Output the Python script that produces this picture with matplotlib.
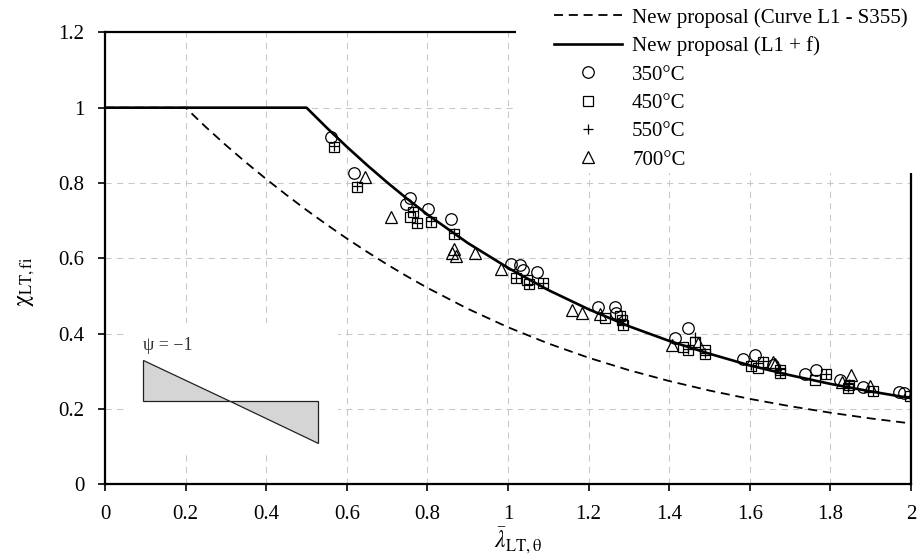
import matplotlib
matplotlib.use("Agg")
import matplotlib.pyplot as plt
from matplotlib.patches import Rectangle, Polygon

plt.rcParams["font.family"] = ["Liberation Serif", "DejaVu Serif"]
plt.rcParams["mathtext.fontset"] = "stix"

# Design curve L1 (S355)
lam_l1 = [0.0, 0.2, 0.25, 0.3, 0.35, 0.4, 0.45, 0.5, 0.55, 0.6, 0.65, 0.7, 0.75,
          0.8, 0.9, 1.0, 1.1, 1.2, 1.3, 1.4, 1.5, 1.6, 1.7, 1.8, 1.9, 2.0]
chi_l1 = [1.0, 1.0, 0.9487, 0.9004, 0.8544, 0.8106, 0.7686, 0.7283, 0.6898,
          0.6528, 0.6176, 0.5840, 0.5521, 0.5219, 0.4664, 0.4173, 0.3742,
          0.3364, 0.3034, 0.2746, 0.2493, 0.2272, 0.2077, 0.1905, 0.1753, 0.1620]

# Design curve L1 + f
lam_l1f = [0.0, 0.5, 0.55, 0.6, 0.65, 0.7, 0.75, 0.8, 0.9, 1.0, 1.1, 1.2, 1.3,
           1.4, 1.5, 1.6, 1.7, 1.8, 1.9, 2.0]
chi_l1f = [1.0, 1.0, 0.9470, 0.8963, 0.8479, 0.8018, 0.7580, 0.7165, 0.6410,
           0.5750, 0.5160, 0.4650, 0.4200, 0.3810, 0.3470, 0.3160, 0.2900,
           0.2670, 0.2470, 0.2290]

# Numerical results
lam_350 = [0.562, 0.618, 0.757, 0.747, 0.802, 0.858, 1.007, 1.031, 1.038, 1.073,
           1.224, 1.266, 1.268, 1.414, 1.447, 1.584, 1.613, 1.657, 1.737, 1.764,
           1.824, 1.882, 1.970, 1.982]
chi_350 = [0.923, 0.827, 0.760, 0.744, 0.730, 0.705, 0.585, 0.582, 0.569, 0.563,
           0.470, 0.470, 0.455, 0.388, 0.415, 0.333, 0.344, 0.317, 0.294, 0.303,
           0.277, 0.258, 0.246, 0.243]

lam_450 = [0.569, 0.626, 0.765, 0.757, 0.773, 0.810, 0.866, 1.020, 1.046, 1.053,
           1.086, 1.241, 1.278, 1.282, 1.286, 1.435, 1.447, 1.464, 1.489, 1.490,
           1.604, 1.634, 1.621, 1.675, 1.676, 1.762, 1.789, 1.846, 1.843, 1.905,
           1.998]
chi_450 = [0.895, 0.790, 0.724, 0.709, 0.693, 0.696, 0.665, 0.547, 0.543, 0.531,
           0.534, 0.441, 0.447, 0.437, 0.423, 0.366, 0.357, 0.379, 0.357, 0.346,
           0.315, 0.325, 0.308, 0.304, 0.295, 0.277, 0.292, 0.264, 0.257, 0.247,
           0.234]

lam_550 = [0.569, 0.626, 0.765, 0.773, 0.810, 0.866, 1.020, 1.053, 1.086, 1.282,
           1.286, 1.447, 1.464, 1.490, 1.604, 1.634, 1.675, 1.676, 1.789, 1.846,
           1.843, 1.905, 1.998]
chi_550 = [0.897, 0.792, 0.726, 0.695, 0.698, 0.667, 0.549, 0.533, 0.536, 0.439,
           0.425, 0.359, 0.392, 0.348, 0.317, 0.327, 0.306, 0.297, 0.294, 0.266,
           0.259, 0.249, 0.236]

lam_700 = [0.645, 0.709, 0.860, 0.866, 0.871, 0.918, 0.983, 1.158, 1.183, 1.228,
           1.406, 1.472, 1.658, 1.663, 1.830, 1.850, 1.898]
chi_700 = [0.815, 0.709, 0.614, 0.624, 0.607, 0.614, 0.572, 0.463, 0.456, 0.452,
           0.370, 0.375, 0.326, 0.320, 0.272, 0.291, 0.262]

x_ticks = [0, 0.2, 0.4, 0.6, 0.8, 1, 1.2, 1.4, 1.6, 1.8, 2]
x_tick_labels = ["0", "0.2", "0.4", "0.6", "0.8", "1", "1.2", "1.4", "1.6", "1.8", "2"]
y_ticks = [0, 0.2, 0.4, 0.6, 0.8, 1, 1.2]
y_tick_labels = ["0", "0.2", "0.4", "0.6", "0.8", "1", "1.2"]

labels = ["New proposal (Curve L1 - S355)", "New proposal (L1 + f)",
          "350°C", "450°C", "550°C", "700°C"]

fig = plt.figure(figsize=(9.19, 5.55), dpi=100)
ax = fig.add_axes([0.11425, 0.12703, 0.87704, 0.81477])

ax.set_xlim(0, 2)
ax.set_ylim(0, 1.2)
ax.set_xticks(x_ticks)
ax.set_xticklabels(x_tick_labels)
ax.set_yticks(y_ticks)
ax.set_yticklabels(y_tick_labels)
ax.tick_params(direction="out", length=5, width=1.2, labelsize=15, pad=10,
               colors="black")
for sp in ax.spines.values():
    sp.set_linewidth(1.6)
    sp.set_color("black")
ax.grid(True, color="#c8c8c8", linewidth=0.75, linestyle=(0, (6, 5)))

h_l1, = ax.plot(lam_l1, chi_l1, color="black", linewidth=1.3,
                linestyle=(0, (5.0, 3.2)), zorder=3)
h_l1f, = ax.plot(lam_l1f, chi_l1f, color="black", linewidth=1.9, zorder=3.2)

mk = dict(linestyle="none", markerfacecolor="none", markeredgecolor="black",
          markeredgewidth=0.9, zorder=4)
h350, = ax.plot(lam_350, chi_350, marker="o", markersize=8.3, **mk)
h450, = ax.plot(lam_450, chi_450, marker="s", markersize=7.4, **mk)
h550, = ax.plot(lam_550, chi_550, marker="+", markersize=7.5, **mk)
h700, = ax.plot(lam_700, chi_700, marker="^", markersize=8.3, **mk)

ax.set_xlabel(r"$\bar{\lambda}_{\mathrm{LT},\mathrm{\theta}}$", fontsize=17)
ax.xaxis.set_label_coords(0.512, -0.092)
ax.set_ylabel(r"$\mathrm{\chi}_{\mathrm{LT,fi}}$", fontsize=17)
ax.yaxis.set_label_coords(-0.084, 0.448)

# white backing behind the legend, cutting the upper-right frame
ax.add_patch(Rectangle((0.51, 0.689), 0.6, 0.5, transform=ax.transAxes,
                       facecolor="white", edgecolor="none", clip_on=False,
                       zorder=2.6))

ax.legend([h_l1, h_l1f, h350, h450, h550, h700], labels,
          loc="upper left", bbox_to_anchor=(554 / 919, 1 - 8 / 555),
          bbox_transform=fig.transFigure, frameon=False, borderpad=0,
          borderaxespad=0, handlelength=3.27, handletextpad=0.48,
          labelspacing=0.42, fontsize=15, numpoints=1)

# bending moment diagram sketch
ins = ax.inset_axes([0.0248, 0.0697, 0.2643, 0.2873])
ins.set_xlim(0, 1)
ins.set_ylim(0, 1)
ins.set_xticks([])
ins.set_yticks([])
for sp in ins.spines.values():
    sp.set_visible(False)
ins.set_facecolor("white")
ins.add_patch(Polygon([(0.0845, 0.715), (0.0845, 0.4), (0.495, 0.4)],
                      closed=True, facecolor="#d5d5d5", edgecolor="#222222",
                      linewidth=0.9))
ins.add_patch(Polygon([(0.495, 0.4), (0.906, 0.4), (0.906, 0.077)],
                      closed=True, facecolor="#d5d5d5", edgecolor="#222222",
                      linewidth=0.9))
ins.text(0.0845, 0.79, "ψ = −1", fontsize=13, color="#333333",
         va="baseline", ha="left")

fig.savefig("out.png", dpi=100)
